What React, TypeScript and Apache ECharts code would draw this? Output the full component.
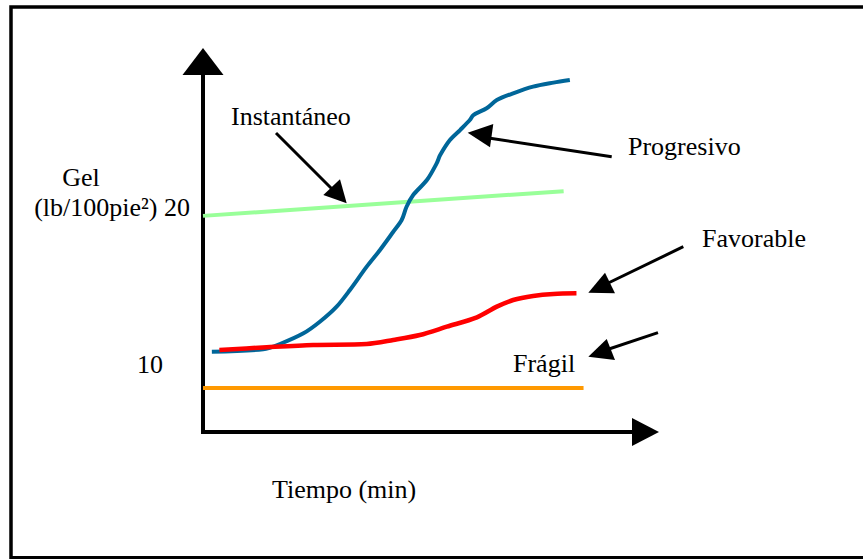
import { useEffect, useRef } from "react";
import * as echarts from "echarts";

// Schematic gel-strength curves: time (arbitrary units 0-100) vs gel (lb/100pie²)
const yTickValues = [10, 20];
const yTickLabels = ["10", "(lb/100pie²) 20"];

const instTime = [0, 81.5];
const instGel = [20.0, 21.6];

const fragTime = [0, 86];
const fragGel = [8.85, 8.85];

const progTime = [2.0, 13.6, 17.4, 22.7, 26.4, 30.2, 33.2, 37.0, 40.0, 43.0, 44.9, 46.0, 47.5, 50.6, 52.8, 53.6, 55.8, 58.1, 60.3, 61.1, 64.1, 66.4, 70.1, 74.6, 79.2, 82.9];
const progGel = [11.2, 11.36, 11.7, 12.39, 13.14, 14.12, 15.2, 16.71, 17.79, 18.97, 19.73, 20.59, 21.35, 22.32, 23.4, 23.94, 24.91, 25.56, 26.21, 26.53, 26.97, 27.5, 27.94, 28.37, 28.63, 28.8];

const favTime = [3.7, 14.4, 24.9, 37.0, 43.0, 49.0, 55.1, 61.9, 66.4, 70.1, 74.6, 79.2, 84.4];
const favGel = [11.31, 11.49, 11.64, 11.7, 11.96, 12.28, 12.82, 13.43, 14.12, 14.55, 14.81, 14.94, 14.98];

const zip = (a: number[], b: number[]) => a.map((v, i) => [v, b[i]]);

const FONT = "Liberation Serif";

export default function App() {
  const ref = useRef<HTMLDivElement>(null);
  useEffect(() => {
    if (!ref.current) return;
    const chart = echarts.init(ref.current, undefined, { renderer: "svg" });
    const txt = (text: string, x: number, y: number, align = "left") => ({
      type: "text",
      x,
      y,
      z: 10,
      style: {
        text,
        fill: "#000",
        fontFamily: FONT,
        fontSize: 26,
        align,
        verticalAlign: "middle",
      },
    });
    const arrow = (x1: number, y1: number, x2: number, y2: number, head: number[][]) => [
      {
        type: "line",
        z: 10,
        shape: { x1, y1, x2, y2 },
        style: { stroke: "#000", lineWidth: 3 },
      },
      {
        type: "polygon",
        z: 10,
        shape: { points: head },
        style: { fill: "#000" },
      },
    ];
    chart.setOption({
      animation: false,
      backgroundColor: "#fff",
      grid: { left: 203, right: 217.5, top: 61.5, bottom: 127, containLabel: false },
      xAxis: {
        type: "value",
        min: 0,
        max: 100,
        axisLine: {
          show: true,
          symbol: ["none", "triangle"],
          symbolSize: [28, 27],
          lineStyle: { color: "#000", width: 4, cap: "square" },
        },
        axisTick: { show: false },
        axisLabel: { show: false },
        splitLine: { show: false },
      },
      yAxis: {
        type: "value",
        min: 6,
        max: 30,
        axisLine: {
          show: true,
          symbol: ["none", "triangle"],
          symbolSize: [41, 27],
          lineStyle: { color: "#000", width: 4, cap: "square" },
        },
        axisTick: { show: false },
        splitLine: { show: false },
        axisLabel: {
          show: true,
          customValues: yTickValues,
          margin: 13,
          formatter: (v: number) => {
            const i = yTickValues.indexOf(v);
            if (i < 0) return "";
            return i === 0 ? `{b|${yTickLabels[i]}}` : `{a|${yTickLabels[i]}}`;
          },
          rich: {
            a: { fontFamily: FONT, fontSize: 26, color: "#000", padding: [0, 0, 17, 0] },
            b: { fontFamily: FONT, fontSize: 26, color: "#000", padding: [0, 27, 12, 0] },
          },
        },
      },
      series: [
        {
          name: "Instantáneo",
          type: "line",
          data: zip(instTime, instGel),
          showSymbol: false,
          lineStyle: { color: "#99ff99", width: 4 },
        },
        {
          name: "Frágil",
          type: "line",
          data: zip(fragTime, fragGel),
          showSymbol: false,
          lineStyle: { color: "#ff9900", width: 4 },
        },
        {
          name: "Progresivo",
          type: "line",
          data: zip(progTime, progGel),
          showSymbol: false,
          smooth: 0.3,
          lineStyle: { color: "#006699", width: 4 },
        },
        {
          name: "Favorable",
          type: "line",
          data: zip(favTime, favGel),
          showSymbol: false,
          smooth: 0.3,
          lineStyle: { color: "#ff0000", width: 4.5 },
        },
      ],
      graphic: [
        {
          type: "rect",
          z: 0,
          shape: { x: 11, y: 7, width: 900, height: 550.7 },
          style: { fill: "none", stroke: "#000", lineWidth: 3.5 },
        },
        txt("Gel", 81, 177, "center"),
        txt("Instantáneo", 231, 116),
        txt("Progresivo", 628, 146),
        txt("Favorable", 702, 238),
        txt("Frágil", 513, 363),
        txt("Tiempo (min)", 272, 489.5),
        ...arrow(276, 133, 333, 190, [[346.7, 203.3], [323.3, 195], [340, 179.3]]),
        ...arrow(611.7, 156.7, 482, 137, [[467.7, 132.7], [493.3, 124], [490, 147.3]]),
        ...arrow(683.3, 246.7, 600, 287, [[588.3, 292.7], [605, 272.7], [615, 293.3]]),
        ...arrow(658, 332.7, 600, 352, [[588.3, 356.7], [606.7, 339], [615, 360]]),
      ],
    });
    return () => chart.dispose();
  }, []);
  return (
    <div
      ref={ref}
      style={{ position: "fixed", left: 0, top: 0, width: 863, height: 559 }}
    />
  );
}
